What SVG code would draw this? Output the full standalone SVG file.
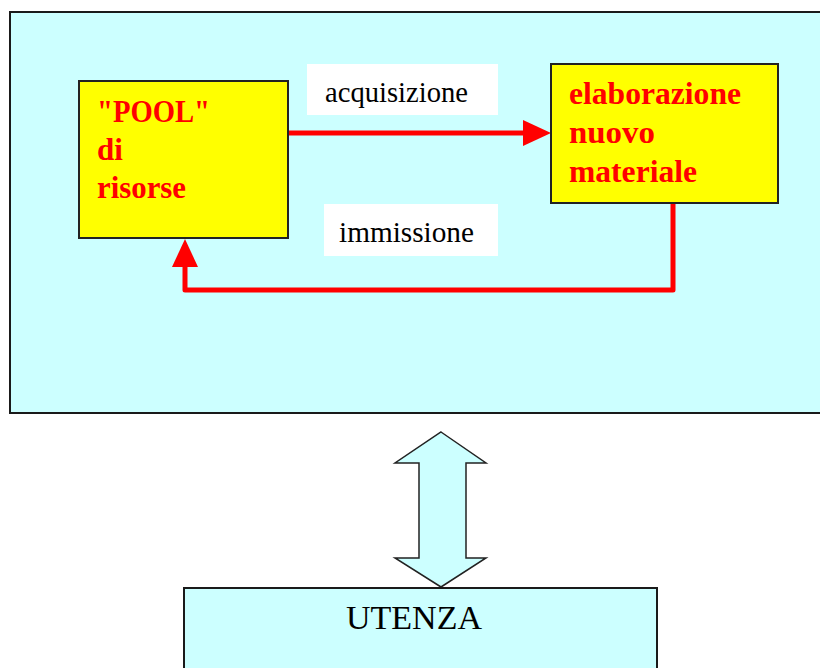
<svg xmlns="http://www.w3.org/2000/svg" width="820" height="668" viewBox="0 0 820 668">
<defs>
<style>
.panel{fill:#ccffff;stroke:#1a1a1a;stroke-width:2}
.node{fill:#ffff00;stroke:#222222;stroke-width:2}
.lbl{fill:#ffffff}
.red{font-family:"Liberation Serif","Times New Roman",serif;font-size:31px;font-weight:bold;fill:#ff0000}
.blk{font-family:"Liberation Serif","Times New Roman",serif;font-size:29px;fill:#000000}
.big{font-family:"Liberation Serif","Times New Roman",serif;font-size:34px;fill:#000000}
.wire{fill:none;stroke:#ff0000;stroke-width:5;stroke-linejoin:round}
.head{fill:#ff0000}
.dbl{fill:#ccffff;stroke:#222222;stroke-width:1.5}
</style>
</defs>
<rect x="0" y="0" width="820" height="668" fill="#ffffff"/>
<g id="panel">
<rect class="panel" x="10" y="12" width="822" height="401"/>
</g>
<g id="label-acquisizione">
<rect class="lbl" x="307" y="64" width="191" height="51"/>
<text class="blk" x="325" y="102" textLength="143" lengthAdjust="spacingAndGlyphs">acquisizione</text>
</g>
<g id="label-immissione">
<rect class="lbl" x="324" y="204" width="174" height="52"/>
<text class="blk" x="339" y="242" textLength="135" lengthAdjust="spacingAndGlyphs">immissione</text>
</g>
<g id="connectors">
<line class="wire" x1="288" y1="133" x2="525" y2="133"/>
<polygon class="head" points="523,120 551,133 523,146"/>
<polyline class="wire" points="673,203 673,290 185,290 185,264"/>
<polygon class="head" points="172,267 185,239 198,267"/>
</g>
<g id="node-pool">
<rect class="node" x="79" y="81" width="209" height="157"/>
<text class="red" x="97" y="122" textLength="113" lengthAdjust="spacingAndGlyphs">"POOL"</text>
<text class="red" x="97" y="160">di</text>
<text class="red" x="97" y="198" textLength="89" lengthAdjust="spacingAndGlyphs">risorse</text>
</g>
<g id="node-elaborazione">
<rect class="node" x="551" y="64" width="227" height="139"/>
<text class="red" x="569" y="104" textLength="172" lengthAdjust="spacingAndGlyphs">elaborazione</text>
<text class="red" x="569" y="143" textLength="86" lengthAdjust="spacingAndGlyphs">nuovo</text>
<text class="red" x="569" y="182" textLength="128" lengthAdjust="spacingAndGlyphs">materiale</text>
</g>
<g id="double-arrow">
<polygon class="dbl" points="441,432 486,463 466,463 466,558 486,558 441,587 395,558 419,558 419,463 395,463"/>
</g>
<g id="node-utenza">
<rect class="panel" x="184" y="588" width="473" height="90"/>
<text class="big" x="414" y="629" text-anchor="middle">UTENZA</text>
</g>
</svg>
